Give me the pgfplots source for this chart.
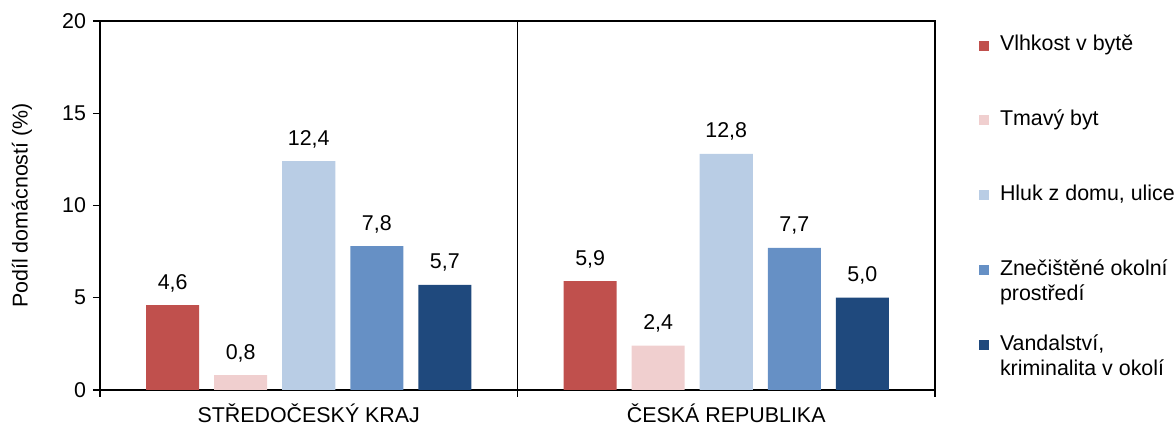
\documentclass[border=0pt]{standalone}
\usepackage{fontspec}
\setmainfont{Liberation Sans}
\usepackage{pgfplots}
\pgfplotsset{compat=1.18}
\definecolor{cRed}{HTML}{C0504D}
\definecolor{cPink}{HTML}{F0CFCF}
\definecolor{cLBlue}{HTML}{B9CDE5}
\definecolor{cMBlue}{HTML}{6690C5}
\definecolor{cDBlue}{HTML}{1F497D}
\newcommand{\leg}[1]{\smash{\begin{tabular}[t]{@{\hspace{5.5pt}}l@{}}#1\end{tabular}}}
\begin{document}
\begin{tikzpicture}[font=\fontsize{10.7}{12.8}\selectfont]
\useasboundingbox (0,0) rectangle (587.5pt,213pt);
\begin{axis}[
  at={(50pt,18pt)}, anchor=south west,
  scale only axis, width=417.5pt, height=184.5pt,
  xmin=-0.5, xmax=1.5, ymin=0, ymax=20,
  ytick={0,5,10,15,20},
  /pgf/number format/assume math mode=true,
  tick align=outside, major tick length=3.5pt,
  xtick pos=bottom, ytick pos=left,
  axis line style={line width=0.6pt, black},
  every tick/.style={line width=0.6pt, black},
  xtick={-0.5,0.5,1.5}, xticklabels={},
  xmajorgrids, major grid style={line width=0.6pt, black},
  xticklabel style={yshift=-3.5pt},
  extra x ticks={0,1},
  extra x tick labels={STŘEDOČESKÝ KRAJ, ČESKÁ REPUBLIKA},
  extra x tick style={major tick length=0pt, xmajorgrids=false},
  ybar, bar width=0.127,
  every axis y label/.style={at={(axis description cs:0,0.5)}, xshift=-39pt, rotate=90, anchor=center},
  ylabel={Podíl domácností (\%)},
  nodes near coords={\pgfmathprintnumber[fixed, fixed zerofill, precision=1, use comma]{\pgfplotspointmeta}},
  every node near coord/.append style={anchor=base, yshift=8pt, inner sep=0pt, black},
  legend image code/.code={\fill[#1] (0pt,0.8pt) rectangle (5pt,5.8pt);},
  legend cell align=left,
  legend style={draw=none, fill=none, inner sep=0pt, outer sep=0pt, row sep=30.9pt,
    at={(1.0527,0.947)}, anchor=north west,
    nodes={inner xsep=0pt, inner ysep=0pt, anchor=west}},
]
\addplot[fill=cRed, draw=none, bar shift=-0.326] coordinates {(0,4.6) (1,5.9)};
\addlegendentry{\leg{Vlhkost v bytě}}
\addplot[fill=cPink, draw=none, bar shift=-0.163] coordinates {(0,0.8) (1,2.4)};
\addlegendentry{\leg{Tmavý byt}}
\addplot[fill=cLBlue, draw=none, bar shift=0] coordinates {(0,12.4) (1,12.8)};
\addlegendentry{\leg{Hluk z domu, ulice}}
\addplot[fill=cMBlue, draw=none, bar shift=0.163] coordinates {(0,7.8) (1,7.7)};
\addlegendentry{\leg{Znečištěné okolní\\prostředí}}
\addplot[fill=cDBlue, draw=none, bar shift=0.326] coordinates {(0,5.7) (1,5.0)};
\addlegendentry{\leg{Vandalství,\\kriminalita v okolí}}
\end{axis}
\end{tikzpicture}
\end{document}
